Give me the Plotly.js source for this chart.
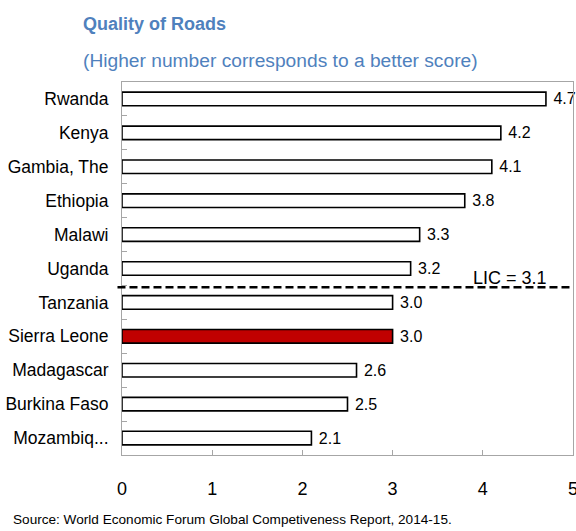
<!DOCTYPE html>
<html><head><meta charset="utf-8">
<script src="https://cdn.plot.ly/plotly-3.0.1.min.js"></script>
<style>html,body{margin:0;padding:0;background:#fff}#c{width:576px;height:531px}</style>
</head><body><div id="c"></div>
<script>
const countries = ["Rwanda","Kenya","Gambia, The","Ethiopia","Malawi","Uganda","Tanzania","Sierra Leone","Madagascar","Burkina Faso","Mozambiq..."];
const scores = [4.7,4.2,4.1,3.8,3.3,3.2,3.0,3.0,2.6,2.5,2.1];
const highlight = "Sierra Leone";
const licValue = 3.1;
const xTicks = [0,1,2,3,4,5];

const F = "Liberation Sans, Arial, sans-serif";
const colors = countries.map(c => c === highlight ? "#C00000" : "#FFFFFF");

const trace = {
  type: "bar", orientation: "h",
  y: countries, x: scores,
  marker: {color: colors, line: {color: "#000000", width: 1.6}},
  width: 0.4,
  text: scores.map(v => "\u00A0" + v.toFixed(1)),
  textposition: "outside",
  constraintext: "none",
  textfont: {family: F, size: 16, color: "#000"},
  cliponaxis: false,
  hoverinfo: "none"
};

const layout = {
  width: 576, height: 531,
  margin: {l: 122, r: 3, t: 82, b: 76},
  paper_bgcolor: "#fff", plot_bgcolor: "#fff",
  showlegend: false,
  font: {family: F, size: 17, color: "#000"},
  xaxis: {
    range: [0, 5], tickvals: xTicks, ticktext: xTicks.map(String),
    showgrid: false, zeroline: false,
    showline: true, linecolor: "#A6A6A6", linewidth: 1, mirror: true,
    ticks: "inside", ticklen: 5, tickcolor: "#A6A6A6",
    ticklabelstandoff: 17, ticklabeloverflow: "allow",
    tickfont: {family: F, size: 18, color: "#000"},
    fixedrange: true
  },
  yaxis: {
    type: "category", autorange: "reversed",
    showgrid: false, zeroline: false,
    showline: true, linecolor: "#A6A6A6", linewidth: 1, mirror: true,
    ticks: "inside", ticklen: 5, tickcolor: "#A6A6A6", tickson: "boundaries",
    ticklabelstandoff: 9,
    tickfont: {family: F, size: 17.5, color: "#000"},
    fixedrange: true
  },
  shapes: [{
    type: "line", xref: "paper", yref: "y",
    x0: -0.01, x1: 1.0, y0: 5.55, y1: 5.55,
    line: {color: "#000", width: 2.5, dash: "8px,4px"}
  }],
  annotations: [
    {xref: "x", yref: "y", x: 4.3, y: 5.55, xanchor: "center", yanchor: "bottom",
     text: "LIC = " + licValue.toFixed(1), showarrow: false, yshift: -3,
     font: {family: F, size: 18, color: "#000"}},
    {xref: "paper", yref: "paper", x: -0.091, y: 1.0, xanchor: "left", yanchor: "middle",
     yshift: 58, text: "<b>Quality of Roads</b>", showarrow: false,
     font: {family: F, size: 18, color: "#4F81BD"}},
    {xref: "paper", yref: "paper", x: -0.091, y: 1.0, xanchor: "left", yanchor: "middle",
     yshift: 22, text: "(Higher number corresponds to a better score)", showarrow: false,
     font: {family: F, size: 19.2, color: "#4F81BD"}},
    {xref: "paper", yref: "paper", x: -0.247, y: 0, xanchor: "left", yanchor: "top",
     yshift: -55, text: "Source: World Economic Forum Global Competiveness Report, 2014-15.", showarrow: false,
     font: {family: F, size: 13.6, color: "#000"}}
  ]
};

Plotly.newPlot("c", [trace], layout, {displayModeBar: false, staticPlot: true});
</script></body></html>
